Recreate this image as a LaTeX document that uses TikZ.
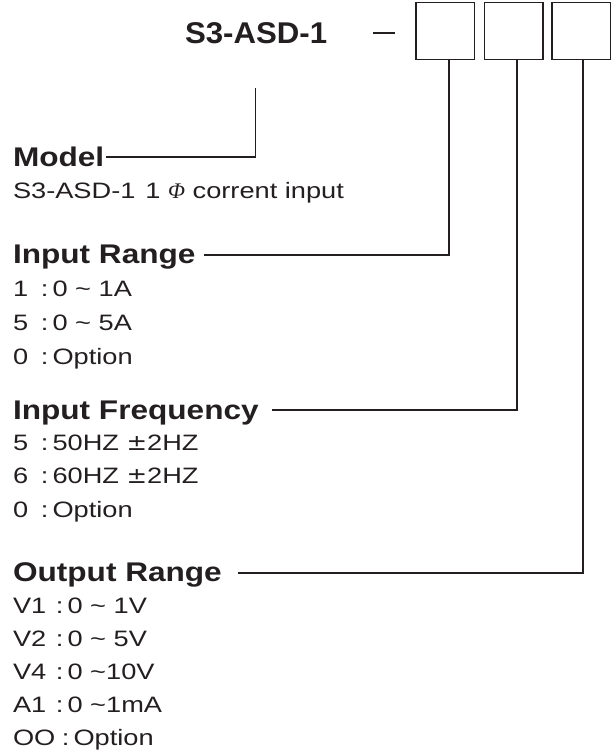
\documentclass[tikz,border=0pt]{standalone}
\usepackage{fontspec}
\setmainfont{Liberation Sans}
\newfontfamily\titlefont[FakeStretch=1.04]{Liberation Sans}
\newfontfamily\headfont[FakeStretch=1.17]{Liberation Sans}
\newfontfamily\bodyfont[FakeStretch=1.22]{Liberation Sans}
\newfontfamily\phifont{Liberation Serif}
\newfontfamily\pmfont[FakeStretch=1.1]{DejaVu Sans}
\definecolor{ink}{RGB}{35,31,32}
\newcommand{\kv}[3]{\makebox[#1][l]{#2}:\hspace{4pt}#3}
\newcommand{\pmsign}{{\pmfont ±}}
\begin{document}
\begin{tikzpicture}[x=1pt,y=-1pt,
  every node/.style={inner sep=0pt,outer sep=0pt,text=ink},
  wire/.style={draw=ink,line width=1.9pt},
  codebox/.style={draw=ink,line width=1.9pt,minimum width=58.5pt,minimum height=57pt},
  titletxt/.style={anchor=base west,font=\titlefont\bfseries\fontsize{30}{34}\selectfont},
  headtxt/.style={anchor=base west,font=\headfont\bfseries\fontsize{27}{30}\selectfont},
  bodytxt/.style={anchor=base west,font=\bodyfont\fontsize{22.3}{26}\selectfont}]
\useasboundingbox (0,0) rectangle (613,753);
% title
\node[titletxt] (title) at (185,43) {S3-ASD-1};
\coordinate (dashA) at (373,33);
\coordinate (dashB) at (395,33);
\draw[wire] (dashA) -- (dashB);
\node[codebox] (b1) at (445.25,31) {};
\node[codebox] (b2) at (513.75,31) {};
\node[codebox] (b3) at (581.25,31) {};
\coordinate (s1) at (449,59.5);
\coordinate (s2) at (517,59.5);
\coordinate (s3) at (583,59.5);
% model
\node[headtxt] (model) at (13,166) {Model};
\coordinate (mtop) at (255.5,88);
\coordinate (mend) at (106,157);
\draw[wire] (mtop) |- (mend);
\node[bodytxt] (m1) at (13,198) {S3-ASD-1\hspace{10pt}1 {\phifont\itshape Φ} corrent input};
% input range
\node[headtxt] (ir) at (13,263) {Input Range};
\coordinate (irend) at (204,255);
\draw[wire] (s1) |- (irend);
\node[bodytxt] (ir1) at (13,296) {\kv{28pt}{1}{0 \textasciitilde{} 1A}};
\node[bodytxt] (ir2) at (13,330) {\kv{28pt}{5}{0 \textasciitilde{} 5A}};
\node[bodytxt] (ir3) at (13,364) {\kv{28pt}{0}{Option}};
% input frequency
\node[headtxt] (if) at (13,419) {Input Frequency};
\coordinate (ifend) at (272,410);
\draw[wire] (s2) |- (ifend);
\node[bodytxt] (if1) at (13,450) {\kv{28pt}{5}{50HZ \pmsign2HZ}};
\node[bodytxt] (if2) at (13,483) {\kv{28pt}{6}{60HZ \pmsign2HZ}};
\node[bodytxt] (if3) at (13,517) {\kv{28pt}{0}{Option}};
% output range
\node[headtxt] (or) at (13,581) {Output Range};
\coordinate (orend) at (238,573);
\draw[wire] (s3) |- (orend);
\node[bodytxt] (or1) at (13,613) {\kv{43pt}{V1}{0 \textasciitilde{} 1V}};
\node[bodytxt] (or2) at (13,646) {\kv{43pt}{V2}{0 \textasciitilde{} 5V}};
\node[bodytxt] (or3) at (13,679) {\kv{43pt}{V4}{0 \textasciitilde10V}};
\node[bodytxt] (or4) at (13,712) {\kv{43pt}{A1}{0 \textasciitilde1mA}};
\node[bodytxt] (or5) at (13,745) {\kv{49pt}{OO}{Option}};
\end{tikzpicture}
\end{document}
